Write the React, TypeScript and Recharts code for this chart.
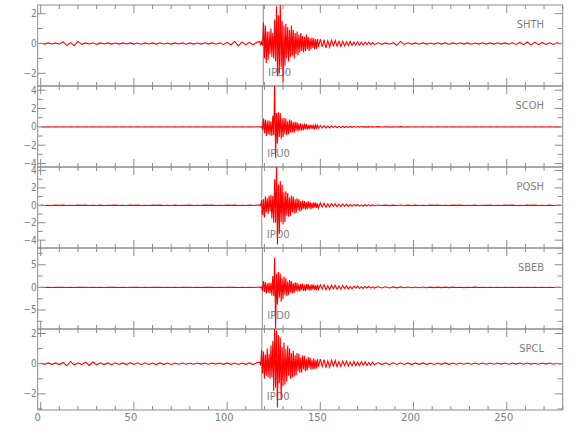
import React from "react";
import { LineChart, Line, XAxis, YAxis, ReferenceLine, ReferenceArea } from "recharts";

// station names, phase picks (s) and per-panel amplitude axes
const stations = ["SHTH", "SCOH", "PQSH", "SBEB", "SPCL"];
const pickNames = ["IPD0", "IPU0", "IPD0", "IPD0", "IPD0"];
const pickTimes = [119.4, 118.9, 118.6, 118.9, 118.6];
const yDomains = [
  [-2.85, 2.58],
  [-4.38, 4.46],
  [-4.9, 4.4],
  [-9.2, 8.7],
  [-3.07, 2.3],
];
const yMajor = [[-2, 0, 2], [-4, -2, 0, 2, 4], [-4, -2, 0, 2, 4], [-5, 0, 5], [-2, 0, 2]];
const yMinor = [[-1, 1], [-3, -1, 1, 3], [-3, -1, 1, 3], [-7.5, -2.5, 2.5, 7.5], [-3, -1, 1]];
const xMajor = [0, 50, 100, 150, 200, 250];
const xMinor = [10, 20, 30, 40, 60, 70, 80, 90, 110, 120, 130, 140, 160, 170, 180, 190, 210, 220, 230, 240, 260, 270, 280];

// sample clock: sparse in quiet parts, dense around the arrivals
const steps = (start: number, step: number, n: number) =>
  Array.from({ length: n }, (_, i) => start + i * step);
const times = [...steps(0, 2, 59), ...steps(117.5, 0.5, 64), ...steps(150, 1, 30), ...steps(181, 2, 50)];

// flat pre/post-event noise shared by the quiet stations
const quietEarly = [
  0.02, -0.02, 0.01, -0.02, 0.02, -0.01, 0.02, -0.02, 0.01, -0.02,
  0.02, -0.01, 0.02, -0.02, 0.01, -0.02, 0.02, -0.02, 0.01, -0.01,
  0.02, -0.02, 0.01, -0.02, 0.02, -0.01, 0.02, -0.02, 0.01, -0.02,
  0.02, -0.01, 0.02, -0.02, 0.01, -0.02, 0.02, -0.02, 0.01, -0.01,
  0.02, -0.02, 0.01, -0.02, 0.02, -0.01, 0.02, -0.02, 0.01, -0.02,
  0.02, -0.01, 0.02, -0.02, 0.01, -0.02, 0.02, -0.02, 0.02,
];
const quietLate = [
  0.03, -0.02, 0.02, -0.03, 0.02, -0.02, 0.03, -0.02, 0.02, -0.02,
  0.02, -0.02, 0.01, -0.02, 0.02, -0.01, 0.02, -0.02, 0.01, -0.02,
  0.02, -0.01, 0.02, -0.02, 0.01, -0.02, 0.02, -0.02, 0.01, -0.01,
  0.02, -0.02, 0.01, -0.02, 0.02, -0.01, 0.02, -0.02, 0.01, -0.02,
  0.02, -0.01, 0.02, -0.02, 0.01, -0.02, 0.02, -0.02, 0.01, -0.01,
];

// SHTH
const shthEarly = [
  0.03, -0.04, 0.04, -0.03, 0.04, -0.05, 0.12, -0.14, 0.06, -0.15,
  0.14, -0.06, 0.04, -0.03, 0.05, -0.06, 0.04, -0.03, 0.04, -0.04,
  0.03, -0.04, 0.04, -0.03, 0.04, -0.04, 0.03, -0.05, 0.04, -0.03,
  0.04, -0.04, 0.05, -0.03, 0.03, -0.04, 0.04, -0.03, 0.04, -0.05,
  0.04, -0.04, 0.03, -0.04, 0.05, -0.04, 0.04, -0.05, 0.05, -0.06,
  0.08, -0.1, 0.15, -0.16, 0.1, -0.09, 0.08, -0.09, 0.1,
];
const shthActive = [
  0.12, -0.08, 0.1, -0.14, 1.4, -1.0, 1.2, -1.3, 0.8, -1.1,
  0.8, -0.7, 1.0, -0.9, 0.7, -1.0, 1.6, -1.2, 2.5, -2.2,
  1.9, -2.0, 2.7, -1.6, 1.5, -2.6, 1.2, -1.5, 1.3, -1.0,
  1.1, -1.2, 0.9, -0.9, 1.2, -0.8, 0.9, -1.0, 0.7, -0.7,
  0.8, -0.8, 0.6, -0.6, 0.7, -0.5, 0.5, -0.6, 0.45, -0.5,
  0.6, -0.4, 0.45, -0.5, 0.35, -0.4, 0.4, -0.3, 0.35, -0.4,
  0.28, -0.35, 0.3, -0.22,
];
const shthCoda = [
  0.3, -0.22, 0.25, -0.3, 0.18, -0.25, 0.22, -0.16, 0.2, -0.18,
  0.14, -0.2, 0.15, -0.16, 0.11, -0.14, 0.13, -0.12, 0.09, -0.1,
  0.11, -0.12, 0.08, -0.1, 0.09, -0.07, 0.09, -0.08, 0.06, -0.08,
];
const shthLate = [
  0.05, -0.06, 0.04, -0.05, 0.05, -0.12, 0.14, -0.06, 0.05, -0.04,
  0.04, -0.05, 0.04, -0.04, 0.03, -0.04, 0.05, -0.04, 0.04, -0.05,
  0.04, -0.03, 0.05, -0.04, 0.04, -0.05, 0.03, -0.04, 0.05, -0.04,
  0.04, -0.04, 0.05, -0.04, 0.04, -0.05, 0.05, -0.06, 0.07, -0.08,
  0.1, -0.11, 0.09, -0.08, 0.07, -0.06, 0.05, -0.06, 0.05, -0.04,
];

// SCOH
const scohActive = [
  0.02, -0.02, 0.03, -0.3, 0.9, -0.7, 0.8, -1.0, 0.7, -0.8,
  0.7, -0.9, 0.6, -1.0, 1.2, -0.9, 4.8, -3.4, 1.5, -1.8,
  1.6, -1.1, 1.5, -1.3, 0.9, -1.1, 1.0, -0.8, 0.9, -0.9,
  0.6, -0.8, 0.8, -0.6, 0.7, -0.6, 0.5, -0.6, 0.55, -0.4,
  0.5, -0.5, 0.35, -0.4, 0.4, -0.4, 0.28, -0.35, 0.35, -0.25,
  0.3, -0.3, 0.2, -0.25, 0.25, -0.18, 0.22, -0.22, 0.16, -0.2,
  0.2, -0.13, 0.18, -0.16,
];
const scohCoda = [
  0.15, -0.11, 0.14, -0.13, 0.09, -0.12, 0.1, -0.08, 0.1, -0.09,
  0.06, -0.08, 0.07, -0.07, 0.05, -0.06, 0.05, -0.05, 0.04, -0.04,
  0.04, -0.03, 0.03, -0.03, 0.02, -0.03, 0.02, -0.02, 0.02, -0.02,
];

// PQSH
const pqshActive = [
  0.02, -0.03, 0.6, -1.1, 0.7, -1.4, 1.0, -0.8, 0.8, -1.0,
  1.1, -0.7, 1.2, -1.5, 1.1, -2.0, 3.0, -2.0, 4.6, -4.5,
  2.4, -3.3, 2.8, -1.9, 2.4, -2.2, 1.5, -1.9, 1.6, -1.2,
  1.4, -1.3, 0.9, -1.2, 1.1, -0.8, 1.0, -0.9, 0.7, -0.9,
  0.8, -0.55, 0.7, -0.7, 0.5, -0.6, 0.55, -0.4, 0.5, -0.5,
  0.35, -0.45, 0.45, -0.32, 0.4, -0.4, 0.26, -0.35, 0.35, -0.24,
  0.3, -0.3, 0.2, -0.28,
];
const pqshCoda = [
  0.27, -0.19, 0.24, -0.23, 0.16, -0.21, 0.2, -0.14, 0.18, -0.17,
  0.12, -0.15, 0.15, -0.11, 0.13, -0.12, 0.09, -0.11, 0.1, -0.08,
  0.09, -0.09, 0.06, -0.08, 0.07, -0.05, 0.06, -0.06, 0.04, -0.05,
];

// SBEB
const sbebActive = [
  0.05, -0.05, 0.05, -0.8, 1.4, -1.0, 1.2, -1.4, 0.9, -1.2,
  1.0, -1.3, 1.0, -1.8, 2.5, -1.9, 6.6, -9.5, 3.0, -3.8,
  3.4, -2.3, 3.0, -3.2, 2.0, -2.6, 2.4, -1.6, 2.0, -1.9,
  1.3, -1.6, 1.6, -1.1, 1.4, -1.3, 0.9, -1.2, 1.1, -0.8,
  1.0, -0.9, 0.65, -0.9, 0.8, -0.55, 0.78, -0.8, 0.55, -0.76,
  0.74, -0.5, 0.7, -0.7, 0.48, -0.66, 0.66, -0.45, 0.63, -0.62,
  0.44, -0.61, 0.6, -0.42,
];
const sbebCoda = [
  0.6, -0.4, 0.56, -0.54, 0.36, -0.5, 0.48, -0.32, 0.45, -0.44,
  0.29, -0.4, 0.39, -0.26, 0.35, -0.34, 0.22, -0.3, 0.29, -0.19,
  0.26, -0.24, 0.16, -0.22, 0.2, -0.13, 0.18, -0.17, 0.11, -0.15,
];
const sbebLate = [
  0.14, -0.13, 0.12, -0.12, 0.11, -0.1, 0.1, -0.09, 0.09, -0.08,
  0.08, -0.07, 0.07, -0.07, 0.06, -0.06, 0.06, -0.05, 0.05, -0.05,
  0.05, -0.04, 0.04, -0.05, 0.04, -0.04, 0.05, -0.04, 0.04, -0.04,
  0.04, -0.04, 0.03, -0.04, 0.04, -0.03, 0.04, -0.04, 0.03, -0.04,
  0.03, -0.03, 0.04, -0.03, 0.03, -0.03, 0.03, -0.03, 0.03, -0.03,
];

// SPCL
const spclEarly = [
  0.04, -0.05, 0.05, -0.04, 0.05, -0.06, 0.08, -0.14, 0.15, -0.09,
  0.06, -0.06, 0.1, -0.12, 0.11, -0.07, 0.06, -0.06, 0.05, -0.07,
  0.06, -0.05, 0.05, -0.06, 0.07, -0.05, 0.06, -0.07, 0.06, -0.05,
  0.04, -0.06, 0.05, -0.04, 0.04, -0.05, 0.04, -0.04, 0.04, -0.04,
  0.04, -0.04, 0.04, -0.03, 0.04, -0.04, 0.04, -0.03, 0.04, -0.04,
  0.05, -0.04, 0.04, -0.05, 0.04, -0.04, 0.05, -0.06, 0.06,
];
const spclActive = [
  0.1, -0.12, 0.9, -0.65, 0.8, -1.0, 0.6, -0.8, 1.0, -0.9,
  0.65, -1.0, 1.2, -0.9, 1.5, -1.8, 2.6, -1.6, 2.2, -2.9,
  1.9, -1.3, 1.7, -2.4, 1.1, -1.5, 1.4, -1.4, 0.95, -1.2,
  1.2, -0.8, 1.0, -1.0, 0.7, -0.9, 0.85, -0.85, 0.55, -0.75,
  0.7, -0.48, 0.65, -0.6, 0.4, -0.58, 0.55, -0.36, 0.5, -0.5,
  0.32, -0.45, 0.45, -0.29, 0.4, -0.4, 0.26, -0.36, 0.35, -0.34,
  0.23, -0.32, 0.3, -0.2,
];
const spclCoda = [
  0.3, -0.19, 0.27, -0.26, 0.18, -0.24, 0.23, -0.15, 0.21, -0.2,
  0.14, -0.19, 0.18, -0.12, 0.17, -0.16, 0.11, -0.15, 0.15, -0.14,
  0.1, -0.13, 0.13, -0.09, 0.12, -0.11, 0.08, -0.1, 0.1, -0.07,
];
const spclLate = [
  0.07, -0.06, 0.06, -0.07, 0.06, -0.05, 0.06, -0.05, 0.05, -0.06,
  0.05, -0.04, 0.05, -0.04, 0.04, -0.05, 0.04, -0.04, 0.05, -0.04,
  0.04, -0.04, 0.04, -0.04, 0.04, -0.04, 0.04, -0.04, 0.04, -0.04,
  0.04, -0.04, 0.04, -0.03, 0.04, -0.04, 0.04, -0.03, 0.04, -0.04,
  0.04, -0.03, 0.03, -0.04, 0.04, -0.03, 0.04, -0.04, 0.03, -0.04,
];

const traces = [
  [...shthEarly, ...shthActive, ...shthCoda, ...shthLate],
  [...quietEarly, ...scohActive, ...scohCoda, ...quietLate],
  [...quietEarly, ...pqshActive, ...pqshCoda, ...quietLate],
  [...quietEarly, ...sbebActive, ...sbebCoda, ...sbebLate],
  [...spclEarly, ...spclActive, ...spclCoda, ...spclLate],
];

const AXIS = "#8c8c8c";
const TEXT = "#808080";
const FONT = "'Liberation Sans Narrow', 'DejaVu Sans Condensed', sans-serif";
const PLOT_H = 81;
const PLOT_W = 525;
const FIRST_TOP = 5.3;

const fmt = (v: number) => (v < 0 ? `\u2212${Math.abs(v)}` : `${v}`);

const makeXTick = (labels: boolean) => (props: any) => {
  const { x, y, payload } = props;
  const major = xMajor.includes(payload.value);
  const len = major ? 8 : 4;
  return (
    <g>
      <line x1={x} x2={x} y1={y} y2={y - len} stroke={AXIS} />
      <line x1={x} x2={x} y1={y - PLOT_H} y2={y - PLOT_H + len} stroke={AXIS} />
      {labels && major && (
        <text x={x - 3} y={y + 11} textAnchor="middle" fill={TEXT} fontSize={11} fontFamily={FONT}>
          {payload.value}
        </text>
      )}
    </g>
  );
};

const makeYTick = (major: number[]) => (props: any) => {
  const { x, y, payload } = props;
  const isMajor = major.includes(payload.value);
  const len = isMajor ? 8 : 5;
  return (
    <g>
      <line x1={x} x2={x + len} y1={y} y2={y} stroke={AXIS} />
      <line x1={x + PLOT_W - len} x2={x + PLOT_W} y1={y} y2={y} stroke={AXIS} />
      {isMajor && (
        <text x={x - 1} y={y} dy="0.34em" textAnchor="end" fill={TEXT} fontSize={10} fontFamily={FONT}>
          {fmt(payload.value)}
        </text>
      )}
    </g>
  );
};

const PickLabel = (props: any) => {
  const { viewBox, text } = props;
  if (!viewBox) return null;
  return (
    <text x={viewBox.x + 5} y={viewBox.y + viewBox.height - 10} fill={TEXT} fontSize={11} fontFamily={FONT}>
      {text}
    </text>
  );
};

const Panel = ({ idx }: { idx: number }) => {
  const data = times.map((t, i) => ({ t, v: traces[idx][i] }));
  const last = idx === stations.length - 1;
  const [lo, hi] = yDomains[idx];
  const top = FIRST_TOP + idx * PLOT_H;
  return (
    <div style={{ position: "absolute", left: 0, top: top - 5 }}>
      <LineChart
        width={580}
        height={5 + PLOT_H + 1 + (last ? 30 : 2)}
        data={data}
        margin={{ top: 5, right: 17.3, left: 36.7, bottom: last ? 30 : 2 }}
      >
        <XAxis
          type="number"
          dataKey="t"
          domain={[-1.6, 280]}
          allowDataOverflow
          ticks={[...xMajor, ...xMinor]}
          interval={0}
          tickSize={0}
          tickMargin={0}
          height={1}
          axisLine={false}
          tickLine={false}
          tick={makeXTick(last)}
        />
        <YAxis
          type="number"
          domain={[lo, hi]}
          allowDataOverflow
          ticks={[...yMinor[idx], ...yMajor[idx]]}
          interval={0}
          tickSize={0}
          tickMargin={0}
          width={1}
          axisLine={false}
          tickLine={false}
          tick={makeYTick(yMajor[idx])}
        />
        <ReferenceArea x1={-1.6} x2={280} y1={lo} y2={hi} fill="none" stroke={AXIS} strokeWidth={1} />
        <ReferenceLine
          x={pickTimes[idx]}
          stroke={AXIS}
          strokeWidth={1}
          label={<PickLabel text={pickNames[idx]} />}
        />
        <Line
          type="linear"
          dataKey="v"
          stroke="#ff0000"
          strokeWidth={1.1}
          dot={false}
          activeDot={false}
          isAnimationActive={false}
        />
      </LineChart>
      <div
        style={{
          position: "absolute",
          left: 0,
          width: 544,
          top: 5 + 19.4 - 6,
          textAlign: "right",
          color: TEXT,
          fontSize: 11,
          lineHeight: "12px",
          fontFamily: FONT,
        }}
      >
        {stations[idx]}
      </div>
    </div>
  );
};

export default function App() {
  return (
    <div style={{ position: "absolute", left: 0, top: 0, width: 580, height: 440, background: "#fff" }}>
      {stations.map((s, i) => (
        <Panel key={s} idx={i} />
      ))}
    </div>
  );
}
